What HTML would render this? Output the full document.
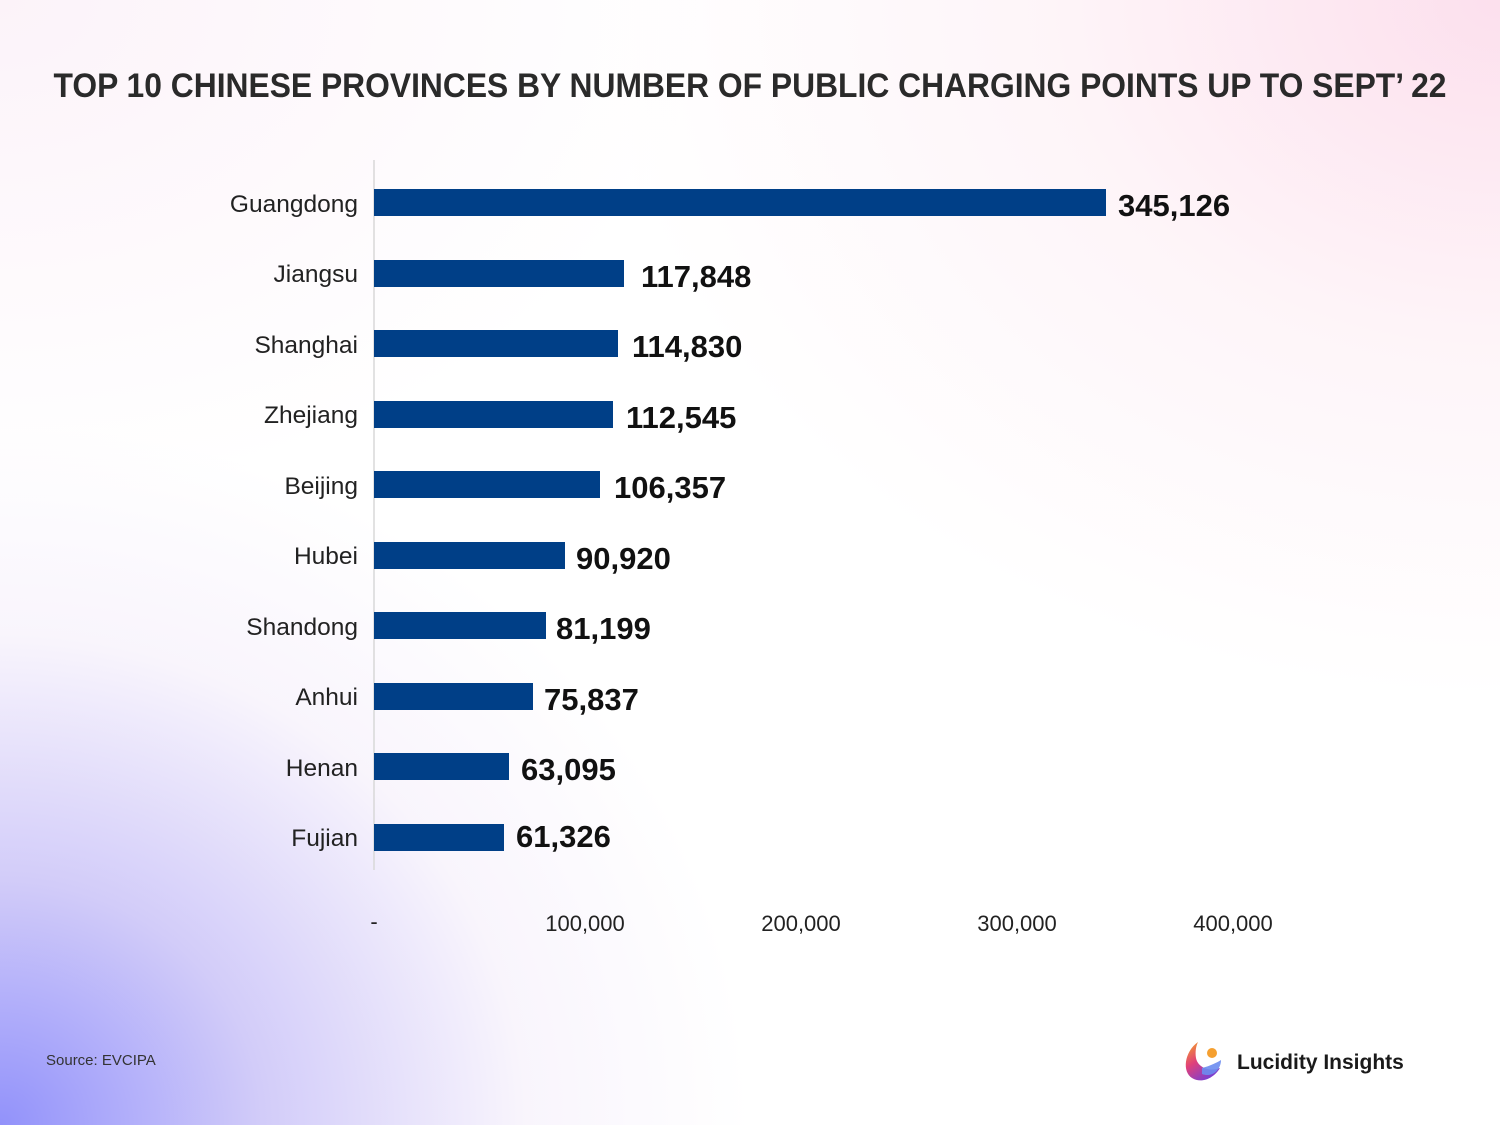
<!DOCTYPE html>
<html><head><meta charset="utf-8"><style>
html,body{margin:0;padding:0}
body{width:1500px;height:1125px;overflow:hidden;background:#fff}
.bg{position:absolute;left:0;top:0;width:1500px;height:1125px;
background:
radial-gradient(ellipse 750px 700px at 0px 1125px, rgba(140,140,250,0.95) 0%, rgba(180,170,245,0.6) 35%, rgba(230,215,245,0.25) 70%, rgba(255,255,255,0) 100%),
radial-gradient(ellipse 900px 700px at 1500px 0px, rgba(252,220,235,0.9) 0%, rgba(253,235,242,0.5) 50%, rgba(255,255,255,0) 100%),
radial-gradient(ellipse 700px 500px at 0px 0px, rgba(250,235,245,0.6) 0%, rgba(255,255,255,0) 100%),
#fff;}
svg{position:absolute;left:0;top:0}
</style></head><body>
<div class="bg"></div>
<svg width="1500" height="1125" xmlns="http://www.w3.org/2000/svg" font-family="Liberation Sans, sans-serif">
<text x="750" y="97" text-anchor="middle" font-size="34" font-weight="bold" fill="#2a2a2a" textLength="1393" lengthAdjust="spacingAndGlyphs">TOP 10 CHINESE PROVINCES BY NUMBER OF PUBLIC CHARGING POINTS UP TO SEPT’ 22</text>
<line x1="374" y1="160" x2="374" y2="870" stroke="#d8d8d8" stroke-width="1.5"/>
<g fill="#003f87">
<rect x="374" y="189" width="732" height="27"/>
<rect x="374" y="260" width="250" height="27"/>
<rect x="374" y="330" width="244" height="27"/>
<rect x="374" y="401" width="239" height="27"/>
<rect x="374" y="471" width="226" height="27"/>
<rect x="374" y="542" width="191" height="27"/>
<rect x="374" y="612" width="172" height="27"/>
<rect x="374" y="683" width="159" height="27"/>
<rect x="374" y="753" width="135" height="27"/>
<rect x="374" y="824" width="130" height="27"/>
</g>
<g font-size="24.5" fill="#222" text-anchor="end">
<text x="358" y="212">Guangdong</text>
<text x="358" y="282">Jiangsu</text>
<text x="358" y="353">Shanghai</text>
<text x="358" y="423">Zhejiang</text>
<text x="358" y="494">Beijing</text>
<text x="358" y="564">Hubei</text>
<text x="358" y="635">Shandong</text>
<text x="358" y="705">Anhui</text>
<text x="358" y="776">Henan</text>
<text x="358" y="846">Fujian</text>
</g>
<g font-size="31" font-weight="bold" fill="#111">
<text x="1118" y="216">345,126</text>
<text x="641" y="287">117,848</text>
<text x="632" y="357">114,830</text>
<text x="626" y="428">112,545</text>
<text x="614" y="498">106,357</text>
<text x="576" y="569">90,920</text>
<text x="556" y="639">81,199</text>
<text x="544" y="710">75,837</text>
<text x="521" y="780">63,095</text>
<text x="516" y="847">61,326</text>
</g>
<g font-size="22" fill="#222" text-anchor="middle">
<text x="374" y="929">-</text>
<text x="585" y="931">100,000</text>
<text x="801" y="931">200,000</text>
<text x="1017" y="931">300,000</text>
<text x="1233" y="931">400,000</text>
</g>
<text x="46" y="1065" font-size="15" fill="#333">Source: EVCIPA</text>
<defs>
<linearGradient id="lg" x1="0" y1="0" x2="0.6" y2="1">
<stop offset="0" stop-color="#f5a623"/><stop offset="0.5" stop-color="#e0407a"/><stop offset="1" stop-color="#7b3fd0"/>
</linearGradient>
</defs>
<path d="M1198 1042 C1184 1052 1182 1072 1192 1078 C1202 1084 1214 1078 1220 1068 C1210 1072 1198 1068 1196 1058 C1195 1052 1196 1046 1198 1042 Z" fill="url(#lg)"/>
<circle cx="1212" cy="1053" r="5" fill="#f5a030"/>
<path d="M1202 1068 C1210 1066 1218 1062 1221 1060 C1221 1070 1212 1078 1202 1074 Z" fill="#6b8cf0" opacity="0.9"/>
<text x="1237" y="1069" font-size="21" font-weight="bold" fill="#1a1a1a">Lucidity Insights</text>
</svg>
</body></html>
